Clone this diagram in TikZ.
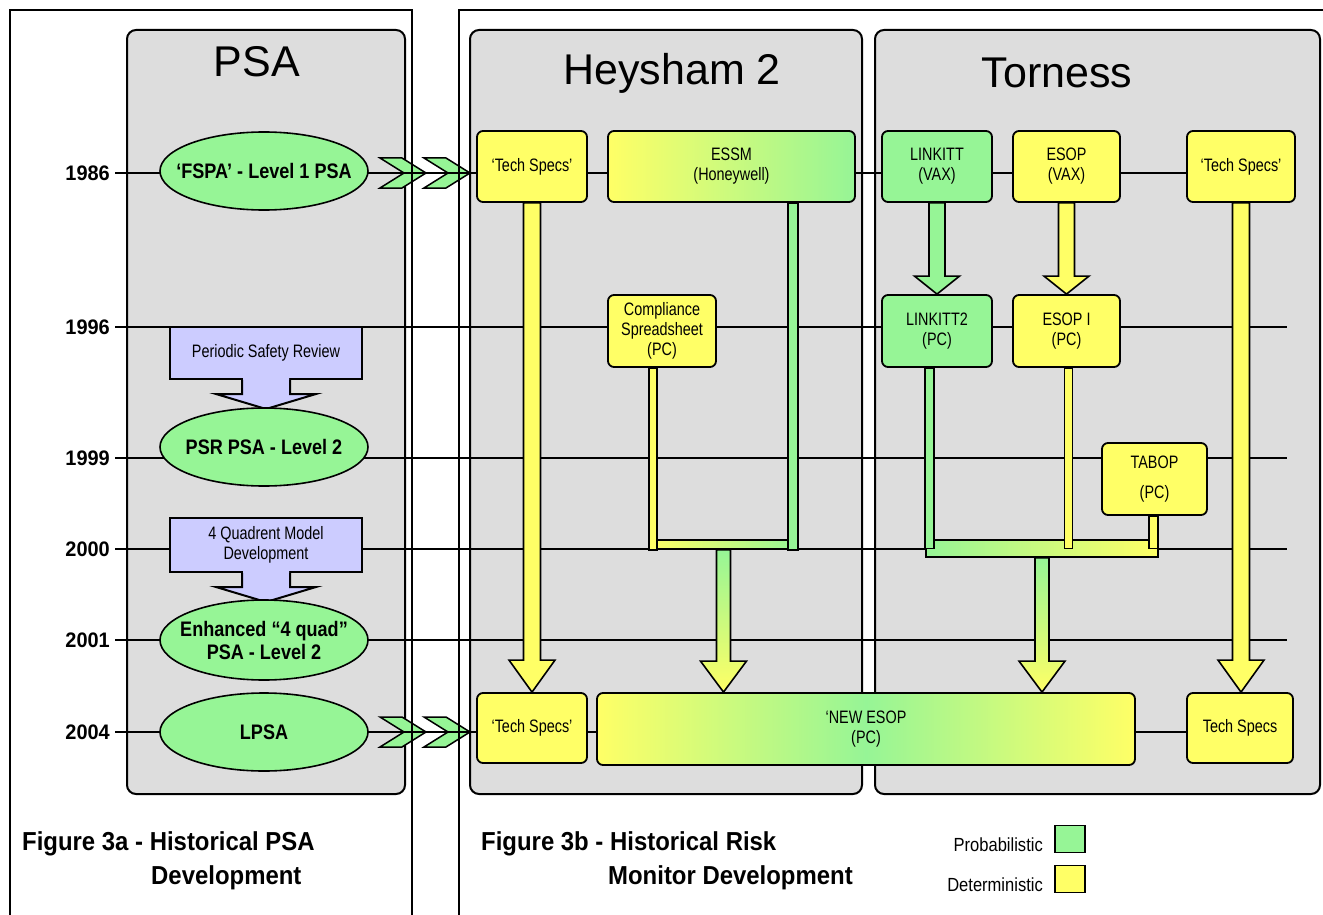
\documentclass[tikz,border=0pt]{standalone}
\usepackage{fontspec}
\setmainfont{Liberation Sans}
\newfontfamily\boxfont[FakeStretch=0.8]{Liberation Sans}
\newfontfamily\ellfont[FakeStretch=0.86]{Liberation Sans}
\newfontfamily\yrfont[FakeStretch=0.95]{Liberation Sans}
\newfontfamily\legfont[FakeStretch=0.87]{Liberation Sans}
\newfontfamily\capfont[FakeStretch=0.92]{Liberation Sans}
\usetikzlibrary{shapes.geometric,calc}
\pgfdeclarelayer{bg}
\pgfdeclarelayer{mid}
\pgfsetlayers{bg,mid,main}
\definecolor{pgr}{RGB}{150,245,150}
\definecolor{yel}{RGB}{255,255,102}
\definecolor{pgray}{RGB}{221,221,221}
\definecolor{lav}{RGB}{204,204,255}
\newcommand{\blockarrow}[6]{%
 \path[#1] let \p1=(#2), \p2=(#3) in
 (\x1-#4pt,\y1) -- (\x1-#4pt,\y2+#6pt) -- (\x1-#5pt,\y2+#6pt) -- (\x1,\y2)
 -- (\x1+#5pt,\y2+#6pt) -- (\x1+#4pt,\y2+#6pt) -- (\x1+#4pt,\y1) -- cycle;}
\newcommand{\calloutarrow}[1]{%
 \fill[lav] ($(#1.south)+(-23,-2)$) -- ($(#1.south)+(-23,14)$) -- ($(#1.south)+(-49,14)$) -- ($(#1.south)+(0,29)$) -- ($(#1.south)+(49,14)$) -- ($(#1.south)+(23,14)$) -- ($(#1.south)+(23,-2)$) -- cycle;
 \draw[line width=2pt, line join=miter] ($(#1.south)+(-24,0)$) -- ($(#1.south)+(-24,14)$) -- ($(#1.south)+(-50,14)$) -- ($(#1.south)+(0,29)$) -- ($(#1.south)+(50,14)$) -- ($(#1.south)+(24,14)$) -- ($(#1.south)+(24,0)$);}
\newcommand{\chevron}[2]{%
 \draw[chevst] (#1,#2-15) -- (#1+22,#2-15) -- (#1+46,#2) -- (#1+22,#2+15) -- (#1,#2+15) -- (#1+24,#2) -- cycle;}
\tikzset{
 panel/.style={fill=pgray, draw=black, line width=2pt, rounded corners=9pt},
 frame/.style={draw=black, line width=2pt},
 ttl/.style={font=\fontsize{43}{46}\selectfont, inner sep=0pt},
 year/.style={font=\yrfont\bfseries\fontsize{21}{23}\selectfont, inner sep=0pt},
 tl/.style={line width=2pt},
 box/.style={draw, line width=1.8pt, rounded corners=6pt, font=\boxfont\fontsize{18}{20}\selectfont, align=center, inner sep=0pt, minimum height=71pt},
 ybox/.style={box, fill=yel},
 gbox/.style={box, fill=pgr},
 ell/.style={ellipse, draw, fill=pgr, line width=1.6pt, font=\ellfont\bfseries\fontsize{21}{23}\selectfont, align=center, inner xsep=-16pt, inner ysep=0pt, minimum width=208pt, minimum height=78pt},
 callbox/.style={draw, fill=lav, line width=2pt, font=\boxfont\fontsize{18}{20}\selectfont, align=center, inner sep=0pt, minimum width=192pt, minimum height=52pt},
 chevst/.style={draw, fill=pgr, line width=1.5pt, line join=miter},
 mbar/.style={draw, line width=1.6pt, inner sep=0pt},
 tbar/.style={draw, line width=1.5pt},
 barrow/.style={draw, line width=1.6pt, line join=miter},
 captxt/.style={font=\capfont\bfseries\fontsize{26}{28}\selectfont, inner sep=0pt, anchor=base west},
 legtxt/.style={font=\legfont\fontsize{19}{21}\selectfont, inner sep=0pt, anchor=east},
 legbox/.style={draw, line width=1.6pt, minimum width=30pt, minimum height=27pt, inner sep=0pt},
}
\begin{document}
\begin{tikzpicture}[x=1pt,y=-1pt]
\useasboundingbox (0,0) rectangle (1323,915);

\begin{pgfonlayer}{bg}
 \fill[white] (0,0) rectangle (1323,915);
 % panels
 \draw[panel] (127,30) rectangle (405,794);
 \draw[panel] (470,30) rectangle (862,794);
 \draw[panel] (875,30) rectangle (1320,794);
 % chevrons
 \chevron{380}{173}
 \chevron{424}{173}
 \chevron{380}{732}
 \chevron{424}{732}
 % outer frames
 \draw[frame] (10,916) -- (10,10) -- (412,10) -- (412,916);
 \draw[frame] (459,916) -- (459,10) -- (1324,10);
 % titles
 \node[ttl] (tpsa) at (257,62) {PSA};
 \node[ttl] (they) at (672,73) {Heysham 2};
 \node[ttl] (ttor) at (1057,73) {Torness};
 % time lines
 \foreach \yr/\yy in {1986/173, 1996/327, 1999/458, 2000/549, 2001/640, 2004/732} {
  \node[year, anchor=east] (y\yr) at (110,\yy) {\yr};
  \coordinate (e\yr) at (1287,\yy);
  \draw[tl] ($(y\yr.east)+(5,0)$) -- (e\yr);
 }
\end{pgfonlayer}

% PSA column
\node[ell] (fspa) at (264,171) {‘FSPA’ - Level 1 PSA};
\node[callbox] (psr) at (266,353) {Periodic Safety Review};
\calloutarrow{psr}
\node[ell] (psrpsa) at (264,447) {PSR PSA - Level 2};
\node[callbox, minimum height=54pt] (quad) at (266,545) {4 Quadrent Model\\Development};
\calloutarrow{quad}
\node[ell, minimum height=80pt] (enh) at (264,640) {Enhanced “4 quad”\\PSA - Level 2};
\node[ell] (lpsa) at (264,732) {LPSA};

% Heysham 2
\node[ybox, minimum width=110pt] (ts1) at (532,166.5) {‘Tech Specs’};
\node[box, minimum width=247pt, left color=yel, right color=pgr] (essm) at (731.5,166.5) {ESSM\\(Honeywell)};
\node[ybox, minimum width=108pt, minimum height=72pt] (comp) at (662,331) {Compliance\\Spreadsheet\\(PC)};
\node[ybox, minimum width=110pt, minimum height=70pt] (ts3) at (532,728) {‘Tech Specs’};
\node[box, minimum width=538pt, minimum height=72pt, left color=yel, right color=yel, middle color=pgr] (newesop) at (866,729) {‘NEW ESOP\\(PC)};

% Torness
\node[gbox, minimum width=110pt] (linkitt) at (937,166.5) {LINKITT\\(VAX)};
\node[ybox, minimum width=107pt] (esop) at (1066.5,166.5) {ESOP\\(VAX)};
\node[ybox, minimum width=108pt] (ts2) at (1241,166.5) {‘Tech Specs’};
\node[gbox, minimum width=110pt, minimum height=72pt] (linkitt2) at (937,331) {LINKITT2\\(PC)};
\node[ybox, minimum width=107pt, minimum height=72pt] (esop1) at (1066.5,331) {ESOP I\\(PC)};
\node[ybox, minimum width=105pt, minimum height=72pt] (tabop) at (1154.5,479) {TABOP\\[10pt](PC)};
\node[ybox, minimum width=106pt, minimum height=70pt] (ts4) at (1240,728) {Tech Specs};

\begin{pgfonlayer}{mid}
 \node[mbar, minimum width=147pt, minimum height=9pt, left color=yel, right color=pgr] (hmerge) at (723.5,544.5) {};
 \node[mbar, minimum width=232pt, minimum height=17pt, left color=pgr, right color=yel] (tmerge) at (1042,548.5) {};
 \draw[tbar, fill=pgr] ($(essm.south -| hmerge.east)+(-10,0)$) rectangle (hmerge.south east);
 \draw[tbar, fill=yel] (comp.south -| hmerge.west) rectangle ($(hmerge.south west)+(8,0)$);
 \draw[tbar, fill=pgr] (linkitt2.south -| tmerge.west) rectangle ($(tmerge.west)+(9,0)$);
 \draw[tbar, fill=yel] ($(esop1.south)+(-2,0)$) rectangle ($(esop1.south |- tmerge.center)+(6,0)$);
 \draw[tbar, fill=yel] ($(tabop.south -| tmerge.east)+(-10,0)$) rectangle ($(tmerge.east)+(-1,0)$);
 \blockarrow{barrow, fill=yel}{ts1.south}{ts3.north}{8.5}{23}{32}
 \blockarrow{barrow, fill=yel}{ts2.south}{ts4.north}{8.5}{23}{32}
 \blockarrow{barrow, fill=pgr}{linkitt.south}{linkitt2.north}{8}{22.5}{18}
 \blockarrow{barrow, fill=yel}{esop.south}{esop1.north}{8}{22.5}{18}
 \blockarrow{barrow, top color=pgr, bottom color=yel}{hmerge.south}{newesop.north}{7}{23}{31}
 \blockarrow{barrow, top color=pgr, bottom color=yel}{tmerge.south}{newesop.north}{7}{23}{31}
\end{pgfonlayer}

% captions
\node[captxt] (c3a1) at (22,850) {Figure 3a - Historical PSA};
\node[captxt] (c3a2) at (151,884) {Development};
\node[captxt] (c3b1) at (481,850) {Figure 3b - Historical Risk};
\node[captxt] (c3b2) at (608,884) {Monitor Development};

% legend
\node[legbox, fill=pgr] (lgp) at (1070,839) {};
\node[legbox, fill=yel] (lgd) at (1070,879) {};
\node[legtxt] (lgpt) at (1043,845) {Probabilistic};
\node[legtxt] (lgdt) at (1043,885) {Deterministic};
\end{tikzpicture}
\end{document}
